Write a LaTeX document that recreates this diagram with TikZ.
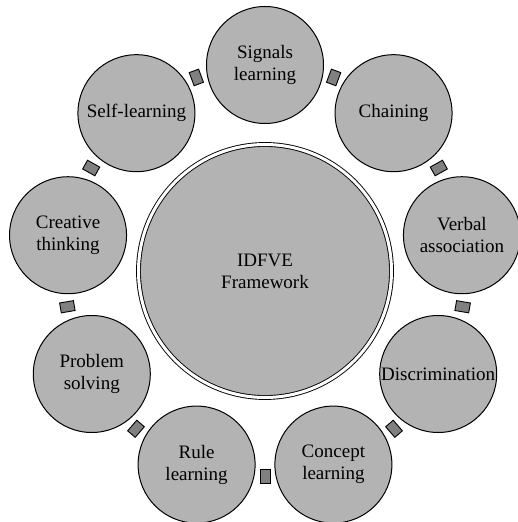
\documentclass[tikz,border=0pt]{standalone}
\usepackage{fontspec}
\setmainfont{Liberation Serif}
\definecolor{stagegray}{RGB}{179,179,179}
\definecolor{linkgray}{RGB}{128,128,128}

\tikzset{
  stage/.style={circle, draw, line width=1pt, fill=stagegray, minimum size=117pt,
    inner sep=0pt, align=center, font=\fontsize{19}{22}\selectfont},
  hub/.style={circle, draw, line width=0.9pt, double, double distance=3pt,
    fill=stagegray, minimum size=253pt, align=center, font=\fontsize{19}{22}\selectfont},
  link/.style={rectangle, draw, line width=0.9pt, fill=linkgray,
    minimum width=10pt, minimum height=14pt, inner sep=0pt}
}

\begin{document}
\begin{tikzpicture}[x=1pt, y=1pt]
\useasboundingbox (-265,-251) rectangle (253,271);

% Framework in the middle
\node[hub] (idfve) at (0,0) {IDFVE\\Framework};

% Learning stages round the ring
\node[stage] (signals)  at (90:200 and 206)   {Signals\\learning};
\node[stage] (chaining) at (50:200 and 206)   {Chaining};
\node[stage] (verbal)   at (10:200 and 206)   {Verbal\\association};
\node[stage] (discrim)  at (-30:200 and 206)  {Discrimination};
\node[stage] (concept)  at (-70:200 and 206)  {Concept\\learning};
\node[stage] (rule)     at (-110:200 and 206) {Rule\\learning};
\node[stage] (problem)  at (-150:200 and 206) {Problem\\solving};
\node[stage] (creative) at (170:200 and 206)  {Creative\\thinking};
\node[stage] (self)     at (130:200 and 206)  {Self-learning};

% Small links between neighbours
\path (signals.center)  to[bend left=18] node[link, sloped] {} (chaining.center);
\path (chaining.center) to[bend left=18] node[link, sloped] {} (verbal.center);
\path (verbal.center)   to[bend left=18] node[link, sloped] {} (discrim.center);
\path (discrim.center)  to[bend left=18] node[link, sloped] {} (concept.center);
\path (concept.center)  to[bend left=18] node[link, sloped] {} (rule.center);
\path (rule.center)     to[bend left=18] node[link, sloped] {} (problem.center);
\path (problem.center)  to[bend left=18] node[link, sloped] {} (creative.center);
\path (creative.center) to[bend left=18] node[link, sloped] {} (self.center);
\path (self.center)     to[bend left=18] node[link, sloped] {} (signals.center);
\end{tikzpicture}
\end{document}
